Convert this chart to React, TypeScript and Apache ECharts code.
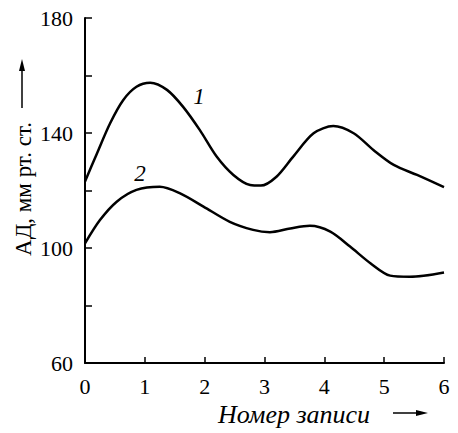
import React, { useEffect, useRef } from "react";
import * as echarts from "echarts";

// Blood pressure per recording number (x = record no., y = mm Hg)
const recordsCurve1: number[] = [
  0, 0.2, 0.42, 0.64, 0.86, 1.09, 1.37, 1.64, 1.92, 2.2, 2.48, 2.76, 2.94,
  3.2, 3.48, 3.82, 4.15, 4.49, 4.82, 5.16, 5.55, 6,
];
const pressureCurve1: number[] = [
  123.1, 132.9, 143.4, 151.5, 156.1, 157.5, 155, 149.1, 141, 131.8, 125.4, 121.9, 121.7,
  124.8, 131.8, 139.9, 142.4, 139.9, 134.1, 128.9, 125.4, 121.2,
];

const recordsCurve2: number[] = [
  0, 0.25, 0.53, 0.86, 1.25, 1.59, 1.98, 2.42, 2.81, 3.09, 3.43, 3.76,
  4.1, 4.43, 4.77, 5.1, 5.43, 6,
];
const pressureCurve2: number[] = [
  101.6, 109.7, 116.1, 120.2, 121.3, 119, 114.4, 109.1, 106.3, 105.5, 106.8, 107.7,
  105.7, 100.5, 94.7, 90.4, 90, 91.5,
];

const labeledYTicks: number[] = [60, 100, 140, 180];
const curveNames: string[] = ["1", "2"];

const SERIF = "Liberation Serif";

export default function App() {
  const ref = useRef<HTMLDivElement>(null);

  useEffect(() => {
    if (!ref.current) return;
    const chart = echarts.init(ref.current, undefined, { renderer: "svg" });

    const pair = (xs: number[], ys: number[]) => xs.map((x, i) => [x, ys[i]]);

    chart.setOption({
      animation: false,
      backgroundColor: "#ffffff",
      textStyle: { fontFamily: SERIF, color: "#000" },
      grid: { left: 85, right: 14, top: 18, bottom: 70 },
      xAxis: {
        type: "value",
        min: 0,
        max: 6,
        interval: 1,
        axisLine: { lineStyle: { color: "#000", width: 2 } },
        axisTick: { inside: true, length: 6, lineStyle: { color: "#000", width: 1.5 } },
        splitLine: { show: false },
        axisLabel: { color: "#000", fontFamily: SERIF, fontSize: 22, margin: 12 },
      },
      yAxis: {
        type: "value",
        min: 60,
        max: 180,
        interval: 20,
        axisLine: { show: true, lineStyle: { color: "#000", width: 2 } },
        axisTick: { show: true, inside: true, length: 7, lineStyle: { color: "#000", width: 1.5 } },
        splitLine: { show: false },
        axisLabel: {
          color: "#000",
          fontFamily: SERIF,
          fontSize: 22,
          margin: 12,
          formatter: (v: number) => (labeledYTicks.includes(v) ? String(v) : ""),
        },
      },
      series: [
        {
          name: curveNames[0],
          type: "line",
          data: pair(recordsCurve1, pressureCurve1),
          smooth: 0.3,
          showSymbol: false,
          lineStyle: { color: "#000", width: 2.5 },
        },
        {
          name: curveNames[1],
          type: "line",
          data: pair(recordsCurve2, pressureCurve2),
          smooth: 0.3,
          showSymbol: false,
          lineStyle: { color: "#000", width: 2.5 },
        },
      ],
      graphic: [
        // curve numbers
        {
          type: "text",
          x: 199,
          y: 96,
          style: {
            text: curveNames[0],
            font: `italic 23px '${SERIF}'`,
            fill: "#000",
            align: "center",
            verticalAlign: "middle",
          },
        },
        {
          type: "text",
          x: 140,
          y: 173,
          style: {
            text: curveNames[1],
            font: `italic 23px '${SERIF}'`,
            fill: "#000",
            align: "center",
            verticalAlign: "middle",
          },
        },
        // y axis title with arrow
        {
          type: "text",
          x: 23,
          y: 189,
          rotation: Math.PI / 2,
          style: {
            text: "АД, мм рт. ст.",
            font: `23px '${SERIF}'`,
            fill: "#000",
            align: "center",
            verticalAlign: "middle",
          },
        },
        {
          type: "line",
          shape: { x1: 22, y1: 108, x2: 22, y2: 68 },
          style: { stroke: "#000", lineWidth: 1.5 },
        },
        {
          type: "polygon",
          shape: { points: [[22, 59], [19, 71], [25, 71]] },
          style: { fill: "#000" },
        },
        // x axis title with arrow
        {
          type: "text",
          x: 218,
          y: 414,
          style: {
            text: "Номер записи",
            font: `italic 26px '${SERIF}'`,
            fill: "#000",
            align: "left",
            verticalAlign: "middle",
          },
        },
        {
          type: "line",
          shape: { x1: 393, y1: 413, x2: 420, y2: 413 },
          style: { stroke: "#000", lineWidth: 1.5 },
        },
        {
          type: "polygon",
          shape: { points: [[428, 413], [416, 410], [416, 416]] },
          style: { fill: "#000" },
        },
      ],
    });

    return () => chart.dispose();
  }, []);

  return (
    <div
      ref={ref}
      style={{ position: "fixed", left: 0, top: 0, width: 458, height: 433 }}
    />
  );
}
